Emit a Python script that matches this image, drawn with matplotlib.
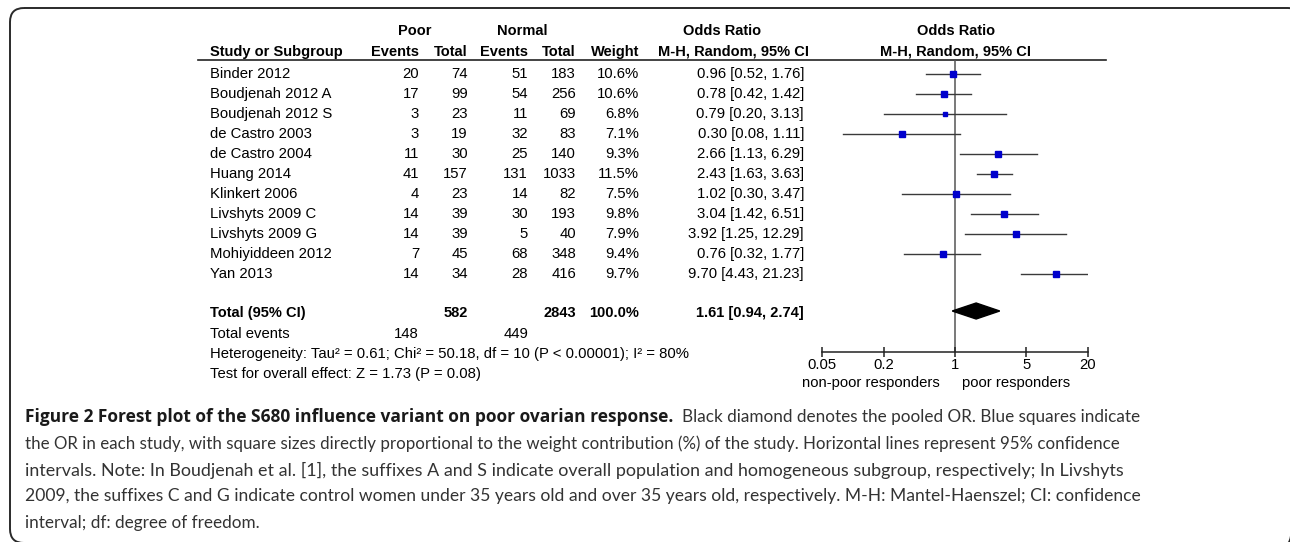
import numpy as np
import matplotlib.pyplot as plt
from matplotlib.patches import FancyBboxPatch, Polygon
from matplotlib.ticker import FixedLocator, FixedFormatter, NullLocator

# study rows
studies = ['Binder 2012', 'Boudjenah 2012 A', 'Boudjenah 2012 S', 'de Castro 2003',
           'de Castro 2004', 'Huang 2014', 'Klinkert 2006', 'Livshyts 2009 C',
           'Livshyts 2009 G', 'Mohiyiddeen 2012', 'Yan 2013']
poor_events = [20, 17, 3, 3, 11, 41, 4, 14, 14, 7, 14]
poor_total = [74, 99, 23, 19, 30, 157, 23, 39, 39, 45, 34]
normal_events = [51, 54, 11, 32, 25, 131, 14, 30, 5, 68, 28]
normal_total = [183, 256, 69, 83, 140, 1033, 82, 193, 40, 348, 416]
weights = [10.6, 10.6, 6.8, 7.1, 9.3, 11.5, 7.5, 9.8, 7.9, 9.4, 9.7]
odds = [0.96, 0.78, 0.79, 0.30, 2.66, 2.43, 1.02, 3.04, 3.92, 0.76, 9.70]
ci_low = [0.52, 0.42, 0.20, 0.08, 1.13, 1.63, 0.30, 1.42, 1.25, 0.32, 4.43]
ci_high = [1.76, 1.42, 3.13, 1.11, 6.29, 3.63, 3.47, 6.51, 12.29, 1.77, 21.23]

# pooled result
pooled = [1.61, 0.94, 2.74]
total_poor, total_normal = 582, 2843
total_weight = 100.0
events_poor, events_normal = 148, 449
heterogeneity = 'Heterogeneity: Tau² = 0.61; Chi² = 50.18, df = 10 (P < 0.00001); I² = 80%'
overall_effect = 'Test for overall effect: Z = 1.73 (P = 0.08)'

tick_values = [0.05, 0.2, 1, 5, 20]
tick_labels = ['0.05', '0.2', '1', '5', '20']

caption_bold = 'Figure 2 Forest plot of the S680 influence variant on poor ovarian response.'
caption_lines = [
    'Black diamond denotes the pooled OR. Blue squares indicate',
    'the OR in each study, with square sizes directly proportional to the weight contribution (%) of the study. Horizontal lines represent 95% confidence',
    'intervals. Note: In Boudjenah et al. [1], the suffixes A and S indicate overall population and homogeneous subgroup, respectively; In Livshyts',
    '2009, the suffixes C and G indicate control women under 35 years old and over 35 years old, respectively. M-H: Mantel-Haenszel; CI: confidence',
    'interval; df: degree of freedom.',
]

plt.rcParams['font.family'] = ['Liberation Sans', 'DejaVu Sans']
W, H = 1290, 542
fig = plt.figure(figsize=(W / 100, H / 100), dpi=100)

# background axes in pixel units
bg = fig.add_axes([0, 0, 1, 1])
bg.set_xlim(0, W)
bg.set_ylim(H, 0)
bg.axis('off')

bg.add_patch(FancyBboxPatch((10, 8), 1292, 535, boxstyle='round,pad=0,rounding_size=14',
                            fc='none', ec='#2a2a2a', lw=1.4, clip_on=False))

fs = 10.7   # regular table text
fb = 10.5   # bold table text
col_x = {'pe': 419, 'pt': 468, 'ne': 528, 'nt': 576, 'w': 639, 'or': 804}
name_x = 210

# headers
bg.text(415, 31, 'Poor', ha='center', va='center', fontsize=fb, fontweight='bold')
bg.text(522, 31, 'Normal', ha='center', va='center', fontsize=fb, fontweight='bold')
bg.text(722, 31, 'Odds Ratio', ha='center', va='center', fontsize=fb, fontweight='bold')
bg.text(956, 31, 'Odds Ratio', ha='center', va='center', fontsize=fb, fontweight='bold')
bg.text(name_x, 52, 'Study or Subgroup', ha='left', va='center', fontsize=fb, fontweight='bold')
for key, lab in [('pe', 'Events'), ('pt', 'Total'), ('ne', 'Events'), ('nt', 'Total'), ('w', 'Weight')]:
    bg.text(col_x[key], 52, lab, ha='right', va='center', fontsize=fb, fontweight='bold')
bg.text(734, 52, 'M-H, Random, 95% CI', ha='center', va='center', fontsize=fb, fontweight='bold')
bg.text(956, 52, 'M-H, Random, 95% CI', ha='center', va='center', fontsize=fb, fontweight='bold')
bg.plot([198, 1106], [60, 60], color='#222222', lw=1.2)

row_y = 74 + 20.0 * np.arange(len(studies))
for i, y in enumerate(row_y):
    bg.text(name_x, y, studies[i], ha='left', va='center', fontsize=fs)
    bg.text(col_x['pe'], y, str(poor_events[i]), ha='right', va='center', fontsize=fs)
    bg.text(col_x['pt'], y, str(poor_total[i]), ha='right', va='center', fontsize=fs)
    bg.text(col_x['ne'], y, str(normal_events[i]), ha='right', va='center', fontsize=fs)
    bg.text(col_x['nt'], y, str(normal_total[i]), ha='right', va='center', fontsize=fs)
    bg.text(col_x['w'], y, f'{weights[i]:.1f}%', ha='right', va='center', fontsize=fs)
    bg.text(col_x['or'], y, f'{odds[i]:.2f} [{ci_low[i]:.2f}, {ci_high[i]:.2f}]',
            ha='right', va='center', fontsize=fs)

ty = 313
bg.text(name_x, ty, 'Total (95% CI)', ha='left', va='center', fontsize=fb, fontweight='bold')
bg.text(col_x['pt'], ty, str(total_poor), ha='right', va='center', fontsize=fb, fontweight='bold')
bg.text(col_x['nt'], ty, str(total_normal), ha='right', va='center', fontsize=fb, fontweight='bold')
bg.text(col_x['w'], ty, f'{total_weight:.1f}%', ha='right', va='center', fontsize=fb, fontweight='bold')
bg.text(col_x['or'], ty, f'{pooled[0]:.2f} [{pooled[1]:.2f}, {pooled[2]:.2f}]',
        ha='right', va='center', fontsize=fb, fontweight='bold')
bg.text(name_x, 334, 'Total events', ha='left', va='center', fontsize=fs)
bg.text(col_x['pe'], 334, str(events_poor), ha='right', va='center', fontsize=fs)
bg.text(col_x['ne'], 334, str(events_normal), ha='right', va='center', fontsize=fs)
bg.text(name_x, 354, heterogeneity, ha='left', va='center', fontsize=fs)
bg.text(name_x, 374, overall_effect, ha='left', va='center', fontsize=fs)

# forest plot axes
x0, x1, y_top, y_axis = 822, 1088, 60, 352
ax = fig.add_axes([x0 / W, (H - y_axis) / H, (x1 - x0) / W, (y_axis - y_top) / H])
ax.patch.set_alpha(0)
ax.set_xscale('log')
ax.set_xlim(tick_values[0], tick_values[-1])
ax.set_ylim(y_axis, y_top)
for side in ['top', 'left', 'right']:
    ax.spines[side].set_visible(False)
ax.spines['bottom'].set_linewidth(1.1)
ax.spines['bottom'].set_color('#222222')
ax.xaxis.set_major_locator(FixedLocator(tick_values))
ax.xaxis.set_major_formatter(FixedFormatter(tick_labels))
ax.xaxis.set_minor_locator(NullLocator())
ax.tick_params(axis='x', direction='inout', length=7, width=1.1, labelsize=fs, pad=1,
               color='#222222')
ax.set_yticks([])

ax.axvline(1, color='#555555', lw=1.1, zorder=1)
for i, y in enumerate(row_y):
    ax.plot([ci_low[i], ci_high[i]], [y, y], color='#3a3a3a', lw=1.0, zorder=2)
    ax.plot(odds[i], y, marker='s', ms=1.5 + 0.3 * weights[i], color='#0000cc',
            mec='#0000cc', zorder=3)
ax.add_patch(Polygon([[pooled[1], ty - 2], [pooled[0], ty - 10], [pooled[2], ty - 2], [pooled[0], ty + 6]],
                     closed=True, fc='black', ec='black', zorder=3))

bg.text(940, 383, 'non-poor responders', ha='right', va='center', fontsize=fs)
bg.text(962, 383, 'poor responders', ha='left', va='center', fontsize=fs)

# caption: lines sized so they span about the same width as in the printed figure
renderer = fig.canvas.get_renderer()
inv = bg.transData.inverted()


def text_right(t):
    bb = t.get_window_extent(renderer=renderer)
    return inv.transform((bb.x1, 0))[0]


def fitted_text(x, y, s, x_right, base, **kw):
    t = bg.text(x, y, s, ha='left', va='center', fontsize=base, **kw)
    if x_right is not None:
        t.set_fontsize(base * (x_right - x) / (text_right(t) - x))
    return t


cap_fs = 12.3
cap_y = [417, 443.5, 470, 496.5, 523]
cap_left = 25
cap_right = [1140, 1123, 1125, 1147, None]
reg = dict(color='#333333', family=['Lato', 'DejaVu Sans'])

# first line: bold lead-in followed by regular text, together ending at cap_right[0]
probe = bg.text(0, 0, caption_lines[0], ha='left', va='center', fontsize=cap_fs, **reg)
reg_width = text_right(probe)
probe.remove()
gap = 5
fitted_text(cap_left, cap_y[0], caption_bold, cap_right[0] - reg_width - gap, cap_fs,
            fontweight='bold', color='#1a1a1a', family=['Open Sans', 'DejaVu Sans'])
bg.text(cap_right[0] - reg_width, cap_y[0], caption_lines[0], ha='left', va='center',
        fontsize=cap_fs, **reg)
for line, y, xr in zip(caption_lines[1:], cap_y[1:], cap_right[1:]):
    fitted_text(cap_left, y, line, xr, cap_fs, **reg)

fig.savefig('out.png', dpi=100)
